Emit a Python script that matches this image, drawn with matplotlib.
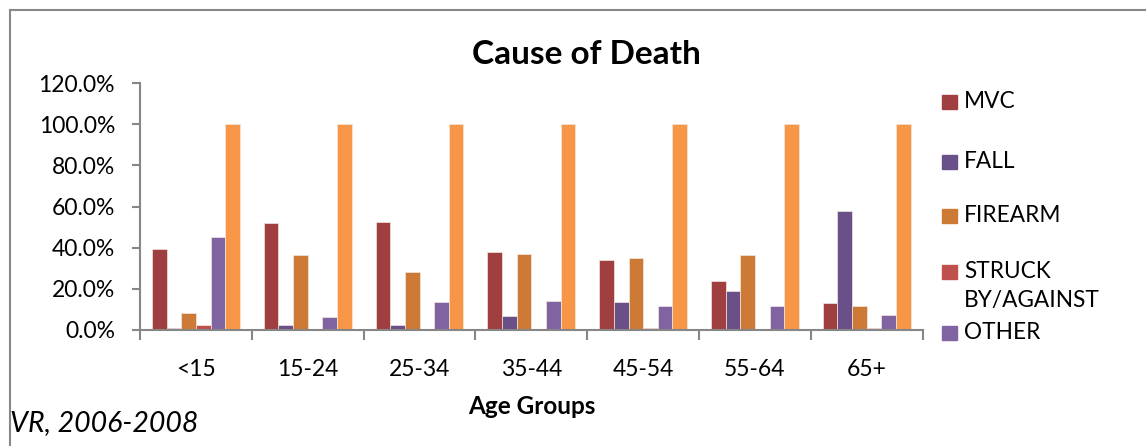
import numpy as np
import matplotlib.pyplot as plt
from matplotlib.patches import Rectangle
from matplotlib.lines import Line2D

plt.rcParams['font.family'] = ['Lato', 'DejaVu Sans']

age_groups = ['<15', '15-24', '25-34', '35-44', '45-54', '55-64', '65+']
mvc = [39.2, 51.8, 52.6, 38.0, 33.8, 23.9, 13.3]
fall = [0.8, 2.4, 2.3, 6.9, 13.6, 18.8, 57.9]
firearm = [8.1, 36.4, 28.2, 36.9, 35.1, 36.4, 11.9]
struck = [2.3, 0.5, 0.4, 0.0, 0.8, 0.7, 0.8]
other = [45.1, 6.3, 13.6, 13.9, 11.8, 11.9, 7.4]
total = [100, 100, 100, 100, 100, 100, 100]

series_names = ['MVC', 'FALL', 'FIREARM', 'STRUCK\nBY/AGAINST', 'OTHER', '']
series_vals = [mvc, fall, firearm, struck, other, total]
colors = ['#9F3F3F', '#6A5088', '#CD7A37', '#C0504D', '#8064A2', '#F79646']

fig = plt.figure(figsize=(11.46, 4.46), dpi=100)
ax = fig.add_axes([140 / 1146, 1 - 330 / 446, 782.7 / 1146, 247 / 446])

x = np.arange(len(age_groups))
bw = 0.131
for i, (vals, c) in enumerate(zip(series_vals, colors)):
    offs = (i - 2.5) * bw
    ax.bar(x + offs, np.array(vals) / 100, width=bw, color=c,
           edgecolor='#F4E6E0', linewidth=0.5)

ax.set_xlim(-0.5, 6.5)
ax.set_ylim(0, 1.2)
ax.set_yticks(np.arange(0, 1.21, 0.2))
ax.set_yticklabels(['%.1f%%' % (v * 100) for v in np.arange(0, 1.21, 0.2)], fontsize=16.5)
ax.set_xticks(x)
ax.set_xticklabels(age_groups, fontsize=16.5)
ax.set_xticks(np.arange(-0.5, 7, 1), minor=True)
ax.tick_params(axis='x', which='major', length=0, pad=21)
ax.tick_params(axis='x', which='minor', length=7, width=1.5, color='#868686')
ax.tick_params(axis='y', length=6, width=1.5, color='#868686', pad=12)
for s in ['top', 'right']:
    ax.spines[s].set_visible(False)
for s in ['left', 'bottom']:
    ax.spines[s].set_color('#868686')
    ax.spines[s].set_linewidth(1.5)

fig.text(586 / 1146, 1 - 55 / 446, 'Cause of Death', fontsize=24, fontweight='bold',
         ha='center', va='center')
fig.text(532 / 1146, 1 - 407 / 446, 'Age Groups', fontsize=17.5, fontweight='bold',
         ha='center', va='center')
fig.text(10 / 1146, 1 - 423 / 446, 'VR, 2006-2008', fontsize=20.5, style='italic',
         ha='left', va='center')

# legend (total bar is not listed)
leg_y = [102, 162, 216, 272, 333]
for name, c, yy in zip(series_names[:5], colors[:5], leg_y):
    fig.patches.append(Rectangle((942 / 1146, 1 - (yy + 7) / 446), 15 / 1146, 14 / 446,
                                 transform=fig.transFigure, color=c))
    fig.text(964 / 1146, 1 - (yy - 11) / 446, name, fontsize=16.3, ha='left', va='top',
             linespacing=1.5)

# outer frame
fig.lines.append(Line2D([10 / 1146, 1], [1 - 10 / 446, 1 - 10 / 446],
                        transform=fig.transFigure, color='#888888', lw=1.5))
fig.lines.append(Line2D([10 / 1146, 10 / 1146], [0, 1 - 10 / 446],
                        transform=fig.transFigure, color='#888888', lw=1.5))

fig.savefig('out.png', dpi=100)
